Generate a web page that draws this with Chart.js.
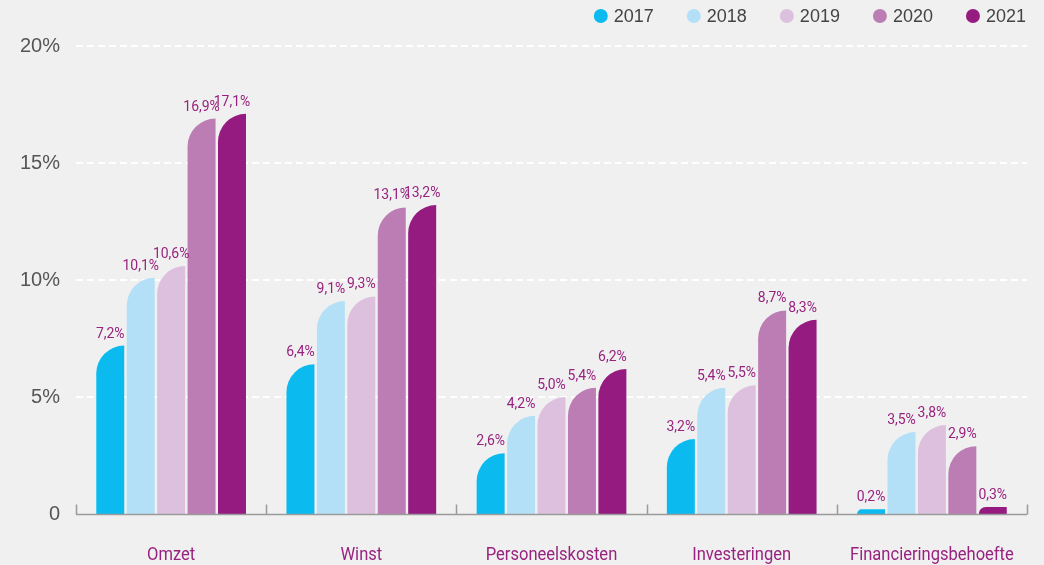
<!DOCTYPE html>
<html>
<head>
<meta charset="utf-8">
<script src="https://cdn.jsdelivr.net/npm/chart.js@4.4.0/dist/chart.umd.min.js"></script>
<style>
  html, body { margin: 0; padding: 0; background: #f0f0f0; }
  #wrap { width: 1044px; height: 565px; }
</style>
</head>
<body>
<div id="wrap"><canvas id="myChart"></canvas></div>
<script>
const categories = ['Omzet', 'Winst', 'Personeelskosten', 'Investeringen', 'Financieringsbehoefte'];
const years = ['2017', '2018', '2019', '2020', '2021'];
const v2017 = [7.2, 6.4, 2.6, 3.2, 0.2];
const v2018 = [10.1, 9.1, 4.2, 5.4, 3.5];
const v2019 = [10.6, 9.3, 5.0, 5.5, 3.8];
const v2020 = [16.9, 13.1, 5.4, 8.7, 2.9];
const v2021 = [17.1, 13.2, 6.2, 8.3, 0.3];
const yTicks = [0, 5, 10, 15, 20];

const colors = ['#0bbbef', '#b3e0f7', '#ddc0de', '#bc7db4', '#951b81'];
const purple = '#98237f';
const sans = '"Liberation Sans", Arial, sans-serif';

// bars with one big rounded corner (top left)
Chart.BarElement.prototype.draw = function (ctx) {
    const p = this.getProps(['x', 'y', 'base', 'width']);
    const left = p.x - p.width / 2, right = p.x + p.width / 2;
    const h = p.base - p.y;
    const r = Math.max(0, Math.min(p.width, h));
    ctx.save();
    ctx.fillStyle = this.options.backgroundColor;
    ctx.beginPath();
    ctx.moveTo(left, p.base);
    ctx.lineTo(left, p.y + r);
    ctx.arcTo(left, p.y, left + r, p.y, r);
    ctx.lineTo(right, p.y);
    ctx.lineTo(right, p.base);
    ctx.closePath();
    ctx.fill();
    ctx.restore();
};

// condensed text helper
function narrowText(ctx, txt, x, y, sx) {
    ctx.save();
    ctx.translate(x, y);
    ctx.scale(sx, 1);
    ctx.fillText(txt, 0, 0);
    ctx.restore();
}

// dashed white grid lines
const dashedGrid = {
    id: 'dashedGrid',
    beforeDatasetsDraw(chart) {
        const ys = chart.scales.y, a = chart.chartArea;
        const ctx = chart.ctx;
        ctx.save();
        ctx.strokeStyle = '#ffffff';
        ctx.lineWidth = 2;
        ctx.setLineDash([7, 4]);
        yTicks.forEach(v => {
            if (v === 0) return;
            const y = Math.round(ys.getPixelForValue(v));
            ctx.beginPath();
            ctx.moveTo(a.left, y);
            ctx.lineTo(a.right, y);
            ctx.stroke();
        });
        ctx.restore();
    }
};

const valueLabels = {
    id: 'valueLabels',
    afterDatasetsDraw(chart) {
        const ctx = chart.ctx;
        ctx.save();
        ctx.fillStyle = purple;
        ctx.font = '15px Roboto, sans-serif';
        ctx.textAlign = 'center';
        ctx.textBaseline = 'alphabetic';
        chart.data.datasets.forEach((ds, i) => {
            chart.getDatasetMeta(i).data.forEach((el, j) => {
                narrowText(ctx, ds.data[j].toFixed(1).replace('.', ',') + '%', el.x, el.y - 8, 0.93);
            });
        });
        ctx.restore();
    }
};

// base line ticks and category names
const baseAxis = {
    id: 'baseAxis',
    afterDatasetsDraw(chart) {
        const xs = chart.scales.x, ys = chart.scales.y;
        const step = (xs.right - xs.left) / categories.length;
        const ctx = chart.ctx;
        const y0 = Math.round(ys.getPixelForValue(0)) + 0.5;
        ctx.save();
        ctx.strokeStyle = '#9a9a9a';
        ctx.lineWidth = 1.5;
        ctx.beginPath();
        ctx.moveTo(xs.left, y0);
        ctx.lineTo(xs.right, y0);
        ctx.stroke();
        for (let i = 0; i <= categories.length; i++) {
            const x = Math.round(xs.left + i * step) + 0.5;
            ctx.beginPath();
            ctx.moveTo(x, y0);
            ctx.lineTo(x, y0 - 10);
            ctx.stroke();
        }
        ctx.fillStyle = purple;
        ctx.font = '19px Roboto, sans-serif';
        ctx.textAlign = 'center';
        ctx.textBaseline = 'alphabetic';
        categories.forEach((c, i) => {
            narrowText(ctx, c, xs.getPixelForValue(i), y0 + 45, 0.87);
        });
        ctx.restore();
    }
};

// legend top right
const topLegend = {
    id: 'topLegend',
    afterDraw(chart) {
        const ctx = chart.ctx;
        ctx.save();
        ctx.font = '18px ' + sans;
        ctx.textBaseline = 'middle';
        ctx.textAlign = 'left';
        let x = 1026;
        const y = 16;
        for (let i = years.length - 1; i >= 0; i--) {
            const w = ctx.measureText(years[i]).width;
            x -= w;
            ctx.fillStyle = '#444444';
            ctx.fillText(years[i], x, y + 1);
            ctx.fillStyle = colors[i];
            ctx.beginPath();
            ctx.arc(x - 13, y, 7, 0, Math.PI * 2);
            ctx.fill();
            x -= 53;
        }
        ctx.restore();
    }
};

const allValues = [v2017, v2018, v2019, v2020, v2021];

new Chart(document.getElementById('myChart'), {
    type: 'bar',
    data: {
        labels: categories,
        datasets: years.map((y, i) => ({
            label: y,
            data: allValues[i],
            backgroundColor: colors[i],
            categoryPercentage: 0.8,
            barPercentage: 0.92
        }))
    },
    options: {
        responsive: true,
        maintainAspectRatio: false,
        animation: false,
        layout: { padding: { left: 12, right: 17, top: 46, bottom: 43 } },
        scales: {
            x: {
                grid: { display: false },
                border: { display: false },
                ticks: { display: false }
            },
            y: {
                min: 0,
                max: 20,
                afterBuildTicks: (axis) => { axis.ticks = yTicks.map(v => ({ value: v })); },
                border: { display: false },
                grid: { display: false },
                ticks: {
                    color: '#555555',
                    padding: 8,
                    font: { size: 20, family: sans },
                    callback: (v) => v === 0 ? '0' : v + '%'
                }
            }
        },
        plugins: {
            legend: { display: false },
            tooltip: { enabled: false }
        }
    },
    plugins: [dashedGrid, valueLabels, baseAxis, topLegend]
});
</script>
</body>
</html>
